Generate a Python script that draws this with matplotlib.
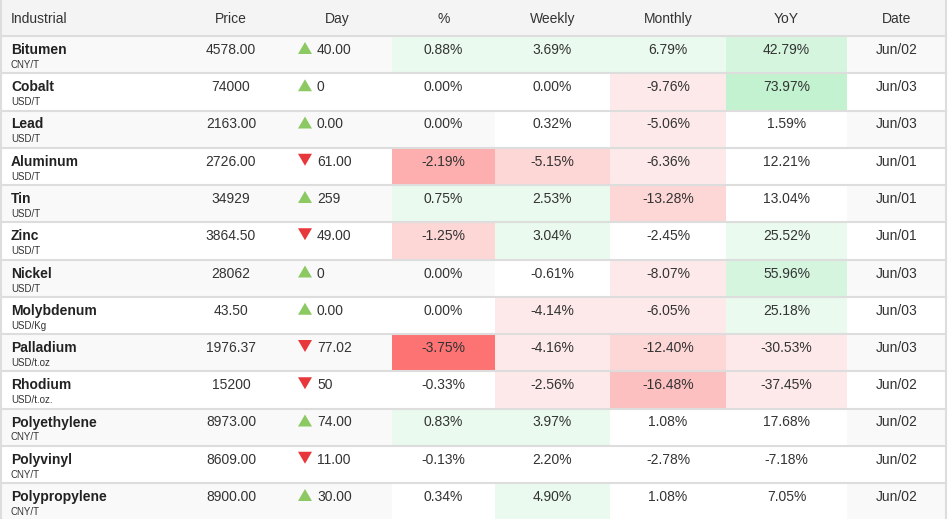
import matplotlib
matplotlib.use('Agg')
import matplotlib.pyplot as plt
from matplotlib.patches import Rectangle, Polygon

plt.rcParams['font.family'] = ['Liberation Sans', 'DejaVu Sans']

# table data
names = ['Bitumen', 'Cobalt', 'Lead', 'Aluminum', 'Tin', 'Zinc', 'Nickel',
         'Molybdenum', 'Palladium', 'Rhodium', 'Polyethylene', 'Polyvinyl',
         'Polypropylene']
units = ['CNY/T', 'USD/T', 'USD/T', 'USD/T', 'USD/T', 'USD/T', 'USD/T',
         'USD/Kg', 'USD/t.oz', 'USD/t.oz.', 'CNY/T', 'CNY/T', 'CNY/T']
prices = ['4578.00', '74000', '2163.00', '2726.00', '34929', '3864.50', '28062',
          '43.50', '1976.37', '15200', '8973.00', '8609.00', '8900.00']
day_change = ['40.00', '0', '0.00', '61.00', '259', '49.00', '0',
              '0.00', '77.02', '50', '74.00', '11.00', '30.00']
day_up = [True, True, True, False, True, False, True,
          True, False, False, True, False, True]
pct = [0.88, 0.00, 0.00, -2.19, 0.75, -1.25, 0.00,
       0.00, -3.75, -0.33, 0.83, -0.13, 0.34]
weekly = [3.69, 0.00, 0.32, -5.15, 2.53, 3.04, -0.61,
          -4.14, -4.16, -2.56, 3.97, 2.20, 4.90]
monthly = [6.79, -9.76, -5.06, -6.36, -13.28, -2.45, -8.07,
           -6.05, -12.40, -16.48, 1.08, -2.78, 1.08]
yoy = [42.79, 73.97, 1.59, 12.21, 13.04, 25.52, 55.96,
       25.18, -30.53, -37.45, 17.68, -7.18, 7.05]
dates = ['Jun/02', 'Jun/03', 'Jun/03', 'Jun/01', 'Jun/01', 'Jun/01', 'Jun/03',
         'Jun/03', 'Jun/03', 'Jun/02', 'Jun/02', 'Jun/02', 'Jun/02']
headers = ['Industrial', 'Price', 'Day', '%', 'Weekly', 'Monthly', 'YoY', 'Date']

# layout (pixels)
W, H = 948, 519
col_edges = [2, 180, 282, 392, 495, 610, 726, 847, 946]
header_h = 36
row_h = 37.25

greens = ['#ffffff', '#eafaee', '#d5f5df', '#c3f2d0']
reds = ['#ffffff', '#fde9e9', '#fdd6d6', '#fcc0c0', '#fdafaf', '#fd9494', '#fd7272']
steps = [0.5, 2.5, 5.0, 20.0]  # heat step per percentage column


def shade(v, step):
    if v == 0:
        return None
    lvl = int(abs(v) / step)
    if v > 0:
        return greens[min(lvl, len(greens) - 1)]
    return reds[min(lvl, len(reds) - 1)]


fig = plt.figure(figsize=(W / 100, H / 100), dpi=100)
ax = fig.add_axes([0, 0, 1, 1])
ax.set_xlim(0, W)
ax.set_ylim(H, 0)
ax.axis('off')

txt = '#333333'
line_c = '#dddddd'

# header
ax.add_patch(Rectangle((col_edges[0], 0), col_edges[-1] - col_edges[0], header_h,
                       color='#f4f4f4', lw=0))
for j, h in enumerate(headers):
    if j == 0:
        ax.text(11, 23, h, fontsize=10, color=txt, va='baseline', ha='left')
    else:
        cx = (col_edges[j] + col_edges[j + 1]) / 2
        ax.text(cx, 23, h, fontsize=10, color=txt, va='baseline', ha='center')

for i in range(len(names)):
    top = header_h + i * row_h
    if i % 2 == 0:
        ax.add_patch(Rectangle((col_edges[0], top), col_edges[-1] - col_edges[0], row_h,
                               color='#f9f9f9', lw=0))
    for k, series in enumerate([pct, weekly, monthly, yoy]):
        c = shade(series[i], steps[k])
        if c is not None:
            x0 = col_edges[3 + k]
            ax.add_patch(Rectangle((x0, top), col_edges[4 + k] - x0, row_h, color=c, lw=0))

    base = top + 18
    ax.text(11, base, names[i], fontsize=10, fontweight='bold', color='#222222',
            va='baseline', ha='left')
    ax.text(11, top + 32, units[i], fontsize=7, color=txt, va='baseline', ha='left')
    ax.text((col_edges[1] + col_edges[2]) / 2, base, prices[i], fontsize=10,
            color=txt, va='baseline', ha='center')

    # day arrow
    if day_up[i]:
        tri = [(298, top + 18), (312, top + 18), (305, top + 6)]
        tc = '#8cc963'
    else:
        tri = [(298, top + 6), (312, top + 6), (305, top + 18)]
        tc = '#e8373a'
    ax.add_patch(Polygon(tri, closed=True, color=tc, lw=0))
    ax.text(317, base, day_change[i], fontsize=10, color=txt, va='baseline', ha='left')

    for k, series in enumerate([pct, weekly, monthly, yoy]):
        cx = (col_edges[3 + k] + col_edges[4 + k]) / 2
        ax.text(cx, base, '%.2f%%' % series[i], fontsize=10, color=txt,
                va='baseline', ha='center')
    ax.text((col_edges[7] + col_edges[8]) / 2, base, dates[i], fontsize=10,
            color=txt, va='baseline', ha='center')

# row separators
for i in range(len(names) + 1):
    y = header_h + i * row_h
    ax.plot([col_edges[0], col_edges[-1]], [y, y], color=line_c, lw=1.5)
ax.plot([1.5, 1.5], [0, H], color=line_c, lw=1.5)
ax.plot([946, 946], [0, H], color=line_c, lw=1.5)

plt.savefig('out.png', dpi=100)
plt.close()
